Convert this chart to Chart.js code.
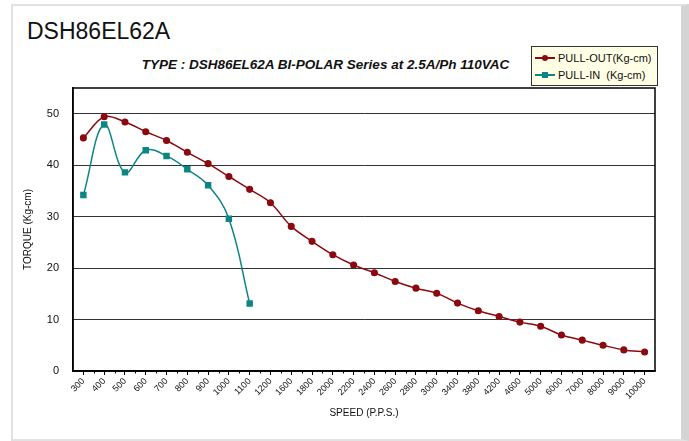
<!DOCTYPE html>
<html lang="en">
<head>
<meta charset="UTF-8" />
<title>DSH86EL62A</title>
<script src="https://cdn.jsdelivr.net/npm/chart.js"></script>
<style>
  body { margin: 0; background: #fff; font-family: "Liberation Sans", Arial, sans-serif; }
  .card {
    position: absolute; left: 11px; top: 4px; width: 668px; height: 433px;
    border: 2px solid #e2e2e2; border-right: 8px solid #d4d4d4; background: #fff;
  }
  .title { position: absolute; left: 27px; top: 20px; font-size: 23px; line-height: 23px; color: #111; }
  .subtitle {
    position: absolute; left: 0; width: 651px; top: 57px; text-align: center;
    font-size: 13.5px; line-height: 15px; font-weight: bold; font-style: italic; color: #111;
  }
  .legend {
    position: absolute; left: 531px; top: 46px; width: 125px; height: 38px;
    border: 1px solid #333; background: #ffffe6; font-size: 11px; color: #111;
  }
  .legend .row { position: absolute; left: 3px; height: 14px; line-height: 14px; white-space: pre; }
  .legend .line { display: inline-block; position: relative; width: 20px; height: 0; border-top: 2px solid; vertical-align: middle; margin-right: 3px; top: -1px; }
  .legend .mark { position: absolute; left: 7px; top: -4px; width: 6px; height: 6px; }
  canvas { position: absolute; left: 0; top: 0; }
</style>
</head>
<body>
  <div class="card"></div>
  <div class="title">DSH86EL62A</div>
  <div class="subtitle">TYPE : DSH86EL62A BI-POLAR Series at 2.5A/Ph 110VAC</div>
  <div class="legend" id="legend"></div>
  <canvas id="torqueChart" width="689" height="441"></canvas>

<script>
  // speed steps (P.P.S.)
  const speeds = ["300", "400", "500", "600", "700", "800", "900", "1000", "1100", "1200",
    "1600", "1800", "2000", "2200", "2400", "2600", "2800", "3000", "3400", "3800",
    "4200", "4600", "5000", "6000", "7000", "8000", "9000", "10000"];

  // torque in Kg-cm
  const pullOut = [45.3, 49.4, 48.4, 46.5, 44.8, 42.5, 40.3, 37.8, 35.3, 32.7,
    28.1, 25.2, 22.6, 20.6, 19.1, 17.4, 16.1, 15.1, 13.2, 11.7,
    10.6, 9.5, 8.7, 7.0, 6.0, 5.0, 4.1, 3.7];
  const pullIn = [34.2, 47.9, 38.6, 42.9, 41.8, 39.2, 36.1, 29.6, 13.1];

  const yTicks = [0, 10, 20, 30, 40, 50];

  const outColor = "#8c0a0f";
  const inColor = "#0e8585";

  const datasets = [
    {
      label: "PULL-OUT(Kg-cm)",
      data: pullOut,
      borderColor: outColor,
      backgroundColor: outColor,
      borderWidth: 1.5,
      pointStyle: "circle",
      pointRadius: 2.8,
      tension: 0.35,
    },
    {
      label: "PULL-IN  (Kg-cm)",
      data: pullIn,
      borderColor: inColor,
      backgroundColor: inColor,
      borderWidth: 1.5,
      pointStyle: "rect",
      pointRadius: 3.5,
      tension: 0.4,
    },
  ];

  // black frame around the plot area, plus the small ticks between categories
  const frame = {
    id: "frame",
    afterDraw(chart) {
      const a = chart.chartArea;
      const ctx = chart.ctx;
      const x = chart.scales.x;
      ctx.save();
      ctx.strokeStyle = "#000";
      ctx.lineWidth = 1.5;
      ctx.strokeRect(a.left, a.top, a.right - a.left, a.bottom - a.top);
      ctx.lineWidth = 1;
      ctx.beginPath();
      for (let i = 0; i < speeds.length - 1; i++) {
        const mid = Math.round((x.getPixelForTick(i) + x.getPixelForTick(i + 1)) / 2) + 0.5;
        ctx.moveTo(mid, a.bottom);
        ctx.lineTo(mid, a.bottom + 2.5);
      }
      ctx.stroke();
      ctx.restore();
    },
  };

  const chart = new Chart(document.getElementById("torqueChart"), {
    type: "line",
    data: { labels: speeds, datasets },
    plugins: [frame],
    options: {
      responsive: false,
      animation: false,
      layout: { padding: { top: 88, right: 34, left: 0, bottom: 0 } },
      plugins: { legend: { display: false }, tooltip: { enabled: false } },
      scales: {
        x: {
          offset: true,
          afterFit(scale) { scale.height = 70; },
          grid: { drawOnChartArea: false, tickLength: 4, color: "#000", offset: false },
          border: { color: "#000", width: 1.5 },
          ticks: {
            minRotation: 45, maxRotation: 45, autoSkip: false, padding: 1,
            color: "#111", font: { size: 9, family: "'Liberation Sans', Arial" },
          },
          title: {
            display: true, text: "SPEED (P.P.S.)", color: "#111",
            font: { size: 10, family: "'Liberation Sans', Arial" },
            padding: { top: 0, bottom: 22 },
          },
        },
        y: {
          min: 0, max: 55,
          afterFit(scale) { scale.width = 73; },
          afterBuildTicks(scale) { scale.ticks = yTicks.map((v) => ({ value: v })); },
          grid: { color: "#333", lineWidth: 1, drawTicks: false },
          border: { color: "#000", width: 1.5 },
          ticks: {
            padding: 14, color: "#111",
            font: { size: 11, family: "'Liberation Sans', Arial" },
          },
          title: {
            display: true, text: "TORQUE (Kg-cm)", color: "#111",
            font: { size: 10, family: "'Liberation Sans', Arial" },
            padding: { top: 22, bottom: 0 },
          },
        },
      },
    },
  });

  // html legend built from the datasets
  const legend = document.getElementById("legend");
  datasets.forEach((ds, i) => {
    const row = document.createElement("div");
    row.className = "row";
    row.style.top = (4 + i * 17) + "px";
    const line = document.createElement("span");
    line.className = "line";
    line.style.borderColor = ds.borderColor;
    const mark = document.createElement("span");
    mark.className = "mark";
    mark.style.background = ds.backgroundColor;
    if (ds.pointStyle === "circle") mark.style.borderRadius = "50%";
    line.appendChild(mark);
    row.appendChild(line);
    row.appendChild(document.createTextNode(ds.label));
    legend.appendChild(row);
  });
</script>
</body>
</html>
